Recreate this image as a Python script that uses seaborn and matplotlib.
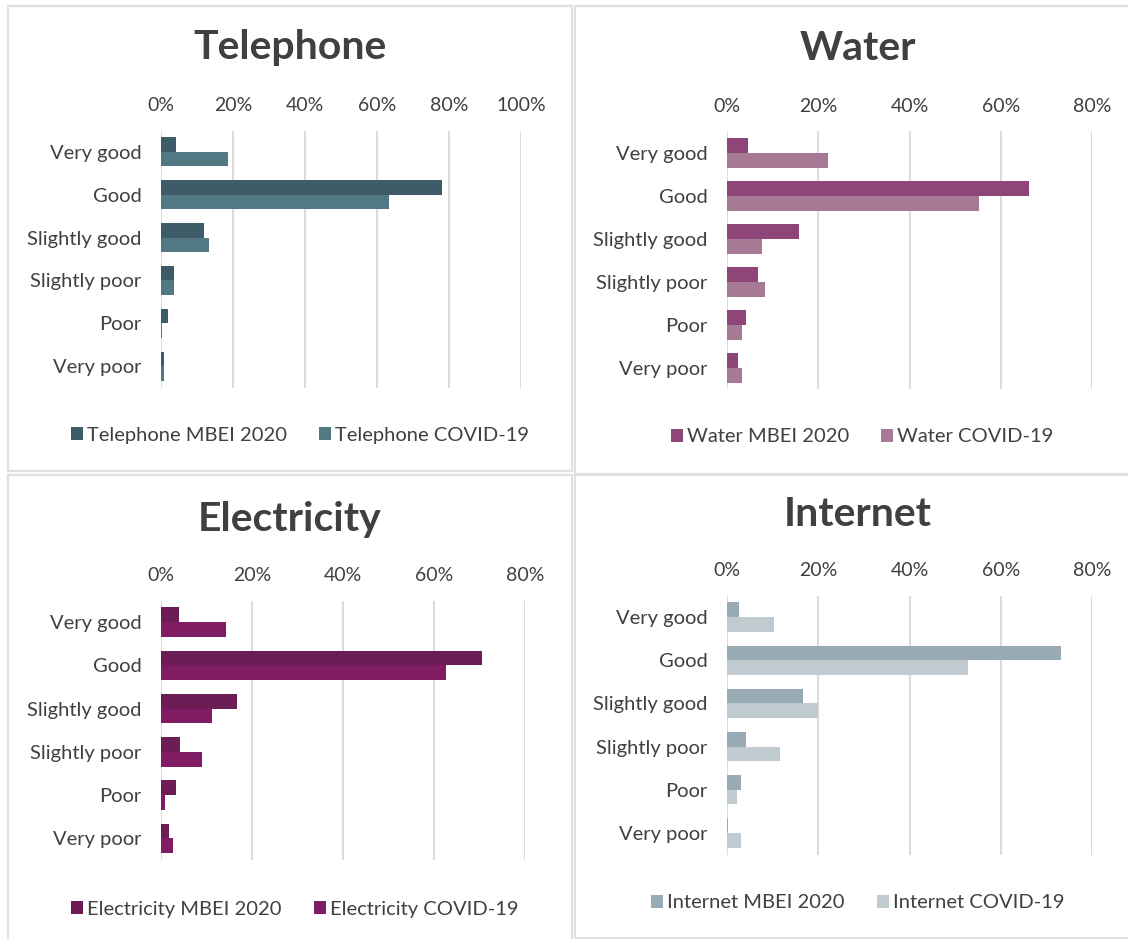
import numpy as np
import pandas as pd
import matplotlib
matplotlib.use('Agg')
import matplotlib.pyplot as plt
import seaborn as sns
from matplotlib.patches import Rectangle
from matplotlib.ticker import PercentFormatter

categories = ['Very good', 'Good', 'Slightly good', 'Slightly poor', 'Poor', 'Very poor']

telephone_mbei = [4.1, 78.1, 11.9, 3.6, 1.9, 0.8]
telephone_covid = [18.6, 63.3, 13.3, 3.6, 0.4, 0.8]
water_mbei = [4.7, 66.1, 15.8, 6.8, 4.2, 2.5]
water_covid = [22.2, 55.2, 7.7, 8.4, 3.3, 3.3]
electricity_mbei = [3.9, 70.6, 16.6, 4.1, 3.3, 1.7]
electricity_covid = [14.2, 62.6, 11.1, 9.0, 0.9, 2.6]
internet_mbei = [2.7, 73.2, 16.7, 4.2, 3.1, 0.2]
internet_covid = [10.4, 52.8, 20.0, 11.7, 2.3, 3.1]

W, H = 1128, 939
sns.set_theme(style='white')
plt.rcParams['font.family'] = ['Lato', 'DejaVu Sans']
txt = '#404040'

fig = plt.figure(figsize=(W / 100, H / 100), dpi=100)

# panel frames (pixels: x0, y0, x1, y1)
for x0, y0, x1, y1 in [(8, 6, 572, 471), (575, 6, 1140, 474),
                       (8, 475, 572, 945), (575, 475, 1140, 938)]:
    fig.add_artist(Rectangle((x0 / W, 1 - y1 / H), (x1 - x0) / W, (y1 - y0) / H,
                             transform=fig.transFigure, fill=False,
                             edgecolor='#e0e0e0', linewidth=1.6))

panels = [
    # name, mbei, covid, colors, axes box (l, r, top, bottom), xmax, title pos, legend pos
    ('Telephone', telephone_mbei, telephone_covid, ['#3e5c67', '#517883'],
     (161, 521, 130.5, 387.5), 100, (290, 48), (300, 435)),
    ('Water', water_mbei, water_covid, ['#8e4577', '#a67a95'],
     (727, 1092, 131.5, 389.5), 80, (858, 48), (862, 437)),
    ('Electricity', electricity_mbei, electricity_covid, ['#6c1d55', '#801c63'],
     (161, 525, 600.5, 860), 80, (290, 520), (295, 909)),
    ('Internet', internet_mbei, internet_covid, ['#98aab3', '#c0cbd0'],
     (727, 1092, 595.5, 854.5), 80, (858, 514), (858, 903)),
]

for name, mbei, covid, colors, box, xmax, tpos, lpos in panels:
    l, r, t, b = box
    ax = fig.add_axes([l / W, 1 - b / H, (r - l) / W, (b - t) / H])
    df = pd.DataFrame({
        'category': categories * 2,
        'value': mbei + covid,
        'series': [f'{name} MBEI 2020'] * 6 + [f'{name} COVID-19'] * 6,
    })
    sns.barplot(data=df, x='value', y='category', hue='series', orient='h',
                palette=colors, width=0.68, gap=0, ax=ax, saturation=1,
                linewidth=0)
    ax.set_xlim(0, xmax)
    ax.set_xticks(np.arange(0, xmax + 1, 20))
    ax.xaxis.set_major_formatter(PercentFormatter(decimals=0))
    ax.xaxis.tick_top()
    ax.tick_params(axis='x', length=0, pad=12, labelsize=14, labelcolor=txt)
    ax.tick_params(axis='y', length=0, pad=14, labelsize=14.5, labelcolor=txt)
    ax.grid(axis='x', color='#dcdcdc', linewidth=1.5)
    ax.set_axisbelow(True)
    for s in ax.spines.values():
        s.set_visible(False)
    ax.set_xlabel('')
    ax.set_ylabel('')
    handles, labels = ax.get_legend_handles_labels()
    ax.get_legend().remove()
    fig.legend(handles, labels, loc='center', ncol=2,
               bbox_to_anchor=(lpos[0] / W, 1 - lpos[1] / H),
               frameon=False, fontsize=14.5, labelcolor=txt,
               handlelength=0.6, handleheight=0.6, handletextpad=0.2,
               columnspacing=1.6)
    fig.text(tpos[0] / W, 1 - tpos[1] / H, name, ha='center', va='center',
             fontsize=29.5, fontweight='bold', color=txt)

fig.savefig('out.png', dpi=100)
